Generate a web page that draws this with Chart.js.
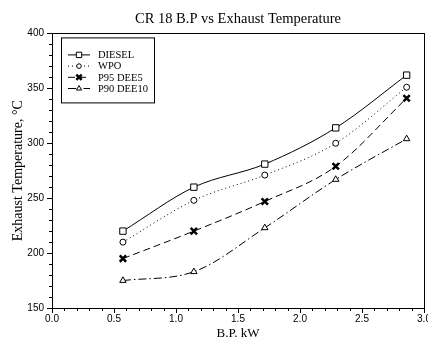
<!DOCTYPE html>
<html><head><meta charset="utf-8">
<script src="https://cdn.jsdelivr.net/npm/chart.js@4.4.0/dist/chart.umd.min.js"></script>
<style>html,body{margin:0;padding:0;overflow:hidden;background:#fff;width:428px;height:345px}
#wrap{width:436px;height:345px}</style></head>
<body><div id="wrap"><canvas id="c" width="436" height="345"></canvas></div>
<script>
const bp = [0.572, 1.144, 1.716, 2.288, 2.86];
const diesel = [220, 260, 281, 314, 362];
const wpo = [210, 248, 271, 300, 351];
const p95dee5 = [195, 220, 247, 279, 341];
const p90dee10 = [175, 183, 223, 267, 304];
const seriesNames = ['DIESEL', 'WPO', 'P95 DEE5', 'P90 DEE10'];
const xTicks = [0, 0.5, 1.0, 1.5, 2.0, 2.5, 3.0];
const yTicks = [150, 200, 250, 300, 350, 400];
const titleText = 'CR 18 B.P vs Exhaust Temperature';
const xTitle = 'B.P. kW';
const yTitle = 'Exhaust Temperature, \u00B0C';

const SERIF = '"Liberation Serif", "Times New Roman", serif';
const SANS = '"Liberation Sans", Arial, sans-serif';

const styles = [
  {dash: [], point: 'rect', bw: 1, r: 4.5},
  {dash: [1, 3], point: 'circle', bw: 1, r: 3},
  {dash: [7, 4], point: 'crossRot', bw: 2.5, r: 4.5},
  {dash: [8, 3, 1.5, 3], point: 'triangle', bw: 1, r: 3.7}
];
const allSeries = [diesel, wpo, p95dee5, p90dee10];

const datasets = allSeries.map((s, i) => ({
  label: seriesNames[i],
  data: s.map((v, j) => ({x: bp[j], y: v})),
  borderColor: '#000',
  backgroundColor: '#fff',
  borderWidth: 1,
  borderDash: styles[i].dash,
  pointStyle: styles[i].point,
  pointRadius: styles[i].r,
  pointBorderWidth: styles[i].bw,
  pointBorderColor: '#000',
  pointBackgroundColor: i === 2 ? '#000' : '#fff',
  cubicInterpolationMode: 'monotone',
  fill: false
}));

const decor = {
  id: 'decor',
  afterDraw(chart) {
    const ctx = chart.ctx;
    const a = chart.chartArea;
    const xs = chart.scales.x, ys = chart.scales.y;
    ctx.save();
    ctx.strokeStyle = '#000';
    ctx.lineWidth = 1;
    ctx.setLineDash([]);
    // frame
    ctx.strokeRect(Math.round(a.left) + 0.5, Math.round(a.top) + 0.5, Math.round(a.right - a.left), Math.round(a.bottom - a.top));
    // minor ticks
    ctx.beginPath();
    for (let k = 1; k < 30; k++) {
      if (k % 5 === 0) continue;
      const px = Math.round(xs.getPixelForValue(k / 10)) + 0.5;
      ctx.moveTo(px, a.bottom); ctx.lineTo(px, a.bottom + 3);
    }
    for (let v = 160; v < 400; v += 10) {
      if (v % 50 === 0) continue;
      const py = Math.round(ys.getPixelForValue(v)) + 0.5;
      ctx.moveTo(a.left, py); ctx.lineTo(a.left - 3, py);
    }
    ctx.stroke();
    // legend
    const bx = a.left + 9, by = a.top + 4, bw = 93, bh = 65;
    ctx.fillStyle = '#fff';
    ctx.fillRect(bx, by, bw, bh);
    ctx.strokeRect(bx + 0.5, by + 0.5, bw, bh);
    ctx.font = '10.5px ' + SERIF;
    ctx.textBaseline = 'middle';
    ctx.textAlign = 'left';
    chart.data.datasets.forEach((ds, i) => {
      const y = by + 17.5 + i * 11.2;
      ctx.strokeStyle = '#000';
      ctx.lineWidth = 1;
      ctx.beginPath();
      ctx.setLineDash(ds.borderDash);
      ctx.moveTo(bx + 7, y); ctx.lineTo(bx + 29, y);
      ctx.stroke();
      ctx.setLineDash([]);
      ctx.fillStyle = ds.pointBackgroundColor;
      ctx.lineWidth = ds.pointBorderWidth;
      Chart.helpers.drawPoint(ctx, {pointStyle: ds.pointStyle, radius: ds.pointRadius - 0.7, borderWidth: ds.pointBorderWidth}, bx + 18, y);
      ctx.lineWidth = 1;
      ctx.fillStyle = '#000';
      ctx.fillText(ds.label, bx + 37, y + 0.5);
    });
    ctx.restore();
  }
};

new Chart(document.getElementById('c'), {
  type: 'line',
  data: {datasets},
  options: {
    responsive: false,
    animation: false,
    layout: {padding: {left: 0, right: 12, top: 0, bottom: 0}},
    plugins: {
      legend: {display: false},
      tooltip: {enabled: false},
      title: {
        display: true, text: titleText, fullSize: false, color: '#000',
        font: {family: SERIF, size: 14.5, weight: 'normal'},
        padding: {top: 10, bottom: 6}
      }
    },
    scales: {
      x: {
        type: 'linear', min: 0, max: 3,
        afterBuildTicks: s => { s.ticks = xTicks.map(v => ({value: v})); },
        afterFit: s => { s.height = 37; },
        ticks: {
          color: '#000', font: {family: SANS, size: 10}, padding: 0,
          maxRotation: 0, callback: v => v.toFixed(1)
        },
        grid: {drawOnChartArea: false, drawTicks: true, tickLength: 5, color: '#000'},
        border: {display: true, color: '#000'},
        title: {display: true, text: xTitle, color: '#000', font: {family: SERIF, size: 13}, padding: {top: 0, bottom: 4}}
      },
      y: {
        min: 150, max: 400,
        afterBuildTicks: s => { s.ticks = yTicks.map(v => ({value: v})); },
        afterFit: s => { s.width = 52; },
        ticks: {color: '#000', font: {family: SANS, size: 10}, padding: 3},
        grid: {drawOnChartArea: false, drawTicks: true, tickLength: 5, color: '#000'},
        border: {display: true, color: '#000'},
        title: {display: true, text: yTitle, color: '#000', font: {family: SERIF, size: 14}, padding: {top: 10, bottom: 0}}
      }
    }
  },
  plugins: [decor]
});
</script>
</body></html>
